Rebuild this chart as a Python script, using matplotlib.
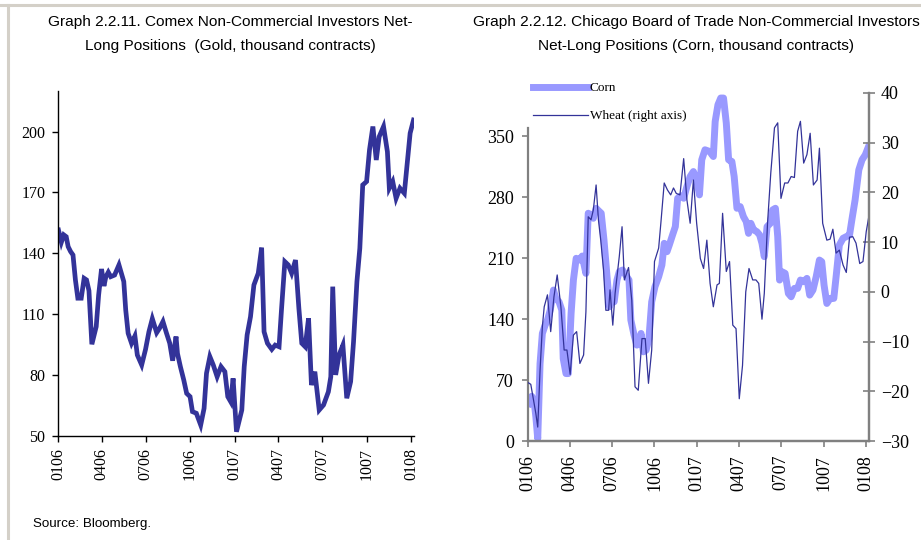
import numpy as np
import pandas as pd
import matplotlib
matplotlib.use("Agg")
import matplotlib.pyplot as plt
import matplotlib.dates as mdates
from matplotlib.lines import Line2D

# observation dates are given as days after 1 Jan 2006
gold_day = [1, 7, 12, 17, 21, 26, 31, 36, 41, 48, 54, 59, 64, 70, 79, 84, 90, 95, 99, 104,
            109, 117, 126, 136, 140, 145, 152, 159, 164, 173, 181, 188, 195, 204, 210, 217, 224, 231, 237, 244,
            247, 253, 260, 266, 273, 278, 286, 295, 302, 307, 314, 321, 329, 337, 345, 351, 357, 362, 369, 380,
            385, 391, 398, 405, 414, 421, 426, 433, 442, 449, 457, 462, 469, 476, 483, 491, 498, 504, 511, 518,
            524, 531, 540, 549, 559, 564, 568, 574, 581, 589, 597, 605, 611, 618, 624, 630, 638, 644, 651, 658,
            664, 673, 681, 685, 692, 699, 707, 716, 722, 728, 735]
gold = [151.5, 145.5, 149.1, 148.2, 143.3, 140.9, 139.2, 126.9, 117.9, 117.9,
        127.7, 126.9, 121.6, 95.2, 103.9, 119.5, 132.3, 123.9, 128.5, 130.7,
        128.5, 129.3, 134.3, 126.1, 112.1, 100.6, 95.7, 99.3, 89.9, 85.0,
        92.7, 101.4, 107.8, 100.9, 103.1, 106.4, 100.9, 95.7, 87.1, 99.0,
        90.7, 84.2, 77.6, 71.0, 69.4, 62.0, 61.2, 55.4, 63.6, 80.9,
        89.1, 85.0, 79.2, 84.2, 81.7, 69.4, 66.9, 78.4, 52.1, 62.8,
        84.2, 99.8, 108.8, 124.4, 130.2, 142.8, 101.4, 95.7, 92.7, 94.8,
        94.0, 112.1, 135.9, 134.3, 130.2, 136.7, 112.9, 95.7, 94.0, 108.0,
        75.1, 81.7, 62.8, 65.3, 71.8, 79.2, 123.6, 80.1, 89.9, 94.8,
        68.6, 76.8, 96.5, 126.1, 142.5, 173.7, 175.4, 191.0, 202.5, 186.0,
        197.5, 202.5, 190.1, 172.1, 175.4, 167.1, 172.1, 169.6, 184.4, 199.2, 205.7]

corn_day = [2, 8, 13, 17, 21, 26, 31, 37, 42, 48, 55, 60, 67, 73, 76, 82, 87, 93, 98, 104,
            111, 117, 125, 130, 136, 141, 147, 152, 158, 164, 170, 176, 181, 186, 192, 197, 204, 211, 218, 222,
            229, 235, 240, 244, 249, 255, 261, 267, 274, 282, 289, 294, 300, 305, 312, 318, 323, 330, 336, 343,
            350, 357, 364, 370, 375, 382, 392, 400, 404, 410, 416, 422, 428, 433, 440, 445, 451, 458, 465, 471,
            476, 481, 487, 494, 500, 505, 510, 516, 523, 528, 534, 539, 543, 548, 555, 562, 568, 575, 582, 588,
            595, 602, 608, 615, 622, 629, 634, 639, 645, 652, 660, 665, 672, 680, 687, 694, 699, 706, 714, 721,
            728, 735]
corn = [43, 51.4, 46.8, 27.6, 2.7, 89, 123.6, 133.2, 139, 150.4,
        173.5, 163.9, 160, 150.4, 94.8, 77.5, 77.5, 146.6, 185, 210,
        208, 212.6, 192.7, 261.8, 259.8, 256, 267.5, 264.8, 261.8, 231,
        192.7, 154.3, 162, 160, 185, 194.6, 196.5, 190.7, 185, 139,
        121.7, 110.2, 112, 123.6, 102.5, 104.4, 117.8, 160, 177.3, 188.8,
        202.3, 227.2, 217.6, 225.3, 236.8, 246.4, 279, 281.7, 279, 292.5,
        304, 309.7, 300.1, 282.9, 323.2, 334.7, 332.8, 327, 367.3, 386.5,
        394.2, 394.2, 365.4, 323.2, 321.3, 304, 267.5, 269.4, 257.9, 252.2,
        238.7, 250.2, 242.6, 240.6, 236.8, 227.2, 211.9, 246.4, 250.2, 265.6,
        267.5, 234.9, 185, 194.6, 192.7, 169.6, 165.8, 175.4, 175.4, 185,
        183.1, 186.9, 167.7, 173.5, 188.8, 208, 206.1, 179.2, 158.1, 163.9,
        163.9, 188.8, 225.3, 233, 234.9, 236.8, 254.1, 277.1, 311.6, 323.2,
        328.9, 338.5]

wheat_day = [1, 6, 12, 17, 21, 26, 31, 35, 42, 49, 56, 63, 71, 78, 84, 91, 98, 105, 112, 120,
             125, 130, 136, 141, 147, 152, 157, 163, 168, 174, 177, 183, 188, 197, 203, 208, 217, 224, 231, 238,
             246, 253, 260, 267, 273, 282, 287, 294, 301, 308, 314, 320, 328, 336, 343, 350, 357, 364, 372, 379,
             386, 393, 400, 408, 413, 420, 428, 435, 442, 449, 456, 463, 470, 477, 485, 492, 498, 505, 510, 517,
             524, 532, 539, 546, 554, 561, 568, 575, 582, 588, 595, 602, 609, 616, 624, 629, 636, 645, 652, 658,
             665, 672, 680, 687, 694, 701, 708, 716, 723, 730, 735]
wheat = [-18.3, -18.6, -21.8, -24.5, -27.2, -15.8, -7.0, -3.0, -0.6, -8.0,
         -1.0, 3.4, -3.0, -11.7, -11.7, -16.6, -8.7, -8.0, -14.4, -12.7,
         -4.0, 15.1, 14.5, 16.5, 21.5, 14.5, 10.4, 4.4, -3.7, -3.7,
         0.4, -6.7, -0.3, 7.1, 13.1, 2.4, 4.9, -1.7, -19.1, -19.8,
         -9.4, -9.4, -18.4, -11.7, 6.1, 8.8, 14.1, 21.9, 20.5, 19.5,
         20.9, 19.8, 19.5, 26.8, 18.5, 13.8, 22.5, 13.8, 6.7, 4.7,
         10.4, 1.7, -3.0, 1.4, 1.7, 15.8, 4.1, 6.1, -6.7, -7.4,
         -21.5, -14.8, 0.0, 4.7, 2.4, 2.4, 1.7, -5.5, -0.3, 13.8,
         23.9, 33.0, 34.0, 18.8, 21.9, 21.9, 23.2, 23.0, 32.3, 34.3,
         25.9, 27.6, 31.9, 21.5, 22.5, 28.9, 13.8, 10.4, 10.6, 12.6,
         7.8, 8.4, 5.4, 3.9, 11.0, 11.1, 9.8, 5.7, 6.1, 12.1, 14.8]

gold_ticks = [50, 80, 110, 140, 170, 200]
corn_ticks = [0, 70, 140, 210, 280, 350]
wheat_ticks = [-30, -20, -10, 0, 10, 20, 30, 40]

title_left = ["Graph 2.2.11. Comex Non-Commercial Investors Net-",
              "Long Positions  (Gold, thousand contracts)"]
title_right = ["Graph 2.2.12. Chicago Board of Trade Non-Commercial Investors",
               "Net-Long Positions (Corn, thousand contracts)"]

start = pd.Timestamp("2006-01-01")
gold_dates = start + pd.to_timedelta(gold_day, unit="D")
corn_dates = start + pd.to_timedelta(corn_day, unit="D")
wheat_dates = start + pd.to_timedelta(wheat_day, unit="D")
x_lo, x_hi = pd.Timestamp("2006-01-01"), pd.Timestamp("2008-01-07")

sans = ["Liberation Sans", "DejaVu Sans"]
serif = ["Liberation Serif", "DejaVu Serif"]

fig = plt.figure(figsize=(9.21, 5.4), dpi=100)

# light grey frame on the top and left edge
fig.add_artist(Line2D([0, 1], [1 - 5 / 540] * 2, transform=fig.transFigure, color="#d4d0c8", lw=2.2))
fig.add_artist(Line2D([8 / 921] * 2, [0, 1 - 5 / 540], transform=fig.transFigure, color="#d4d0c8", lw=2.2))

for line, y in zip(title_left, [22, 46]):
    fig.text(230 / 921, 1 - y / 540, line, ha="center", va="center", fontsize=11.1, family=sans)
for line, y in zip(title_right, [22, 46]):
    fig.text(696 / 921, 1 - y / 540, line, ha="center", va="center", fontsize=11.1, family=sans)
fig.text(33 / 921, 1 - 524 / 540, "Source: Bloomberg.", ha="left", va="center", fontsize=9.6, family=sans)

# --- gold ---
ax1 = fig.add_axes([58 / 921, 1 - 436 / 540, 356 / 921, 345 / 540])
ax1.plot(gold_dates, gold, color="#333399", lw=3.4, solid_joinstyle="miter")
ax1.set_ylim(50, 220)
ax1.set_yticks(gold_ticks)
ax1.set_xlim(x_lo, x_hi)
ax1.xaxis.set_major_locator(mdates.MonthLocator(bymonth=[1, 4, 7, 10]))
ax1.xaxis.set_major_formatter(mdates.DateFormatter("%m%y"))
for s in ["top", "right"]:
    ax1.spines[s].set_visible(False)
for s in ["left", "bottom"]:
    ax1.spines[s].set_linewidth(1.0)
ax1.tick_params(direction="out", length=4, width=1.0, pad=5)
ax1.tick_params(axis="x", labelrotation=90)
for lab in ax1.get_xticklabels() + ax1.get_yticklabels():
    lab.set_family(serif)
    lab.set_fontsize(11.5)

# --- corn / wheat ---
ax2 = fig.add_axes([528 / 921, 1 - 441 / 540, 341 / 921, 348 / 540])
ax3 = ax2.twinx()
corn_line, = ax2.plot(corn_dates, corn, color="#9999ff", lw=5, label="Corn")
wheat_line, = ax3.plot(wheat_dates, wheat, color="#333399", lw=0.9, label="Wheat (right axis)")
ax2.set_ylim(0, 400)
ax2.set_yticks(corn_ticks)
ax3.set_ylim(-30, 40)
ax3.set_yticks(wheat_ticks)
ax2.set_xlim(x_lo, x_hi)
ax2.xaxis.set_major_locator(mdates.MonthLocator(bymonth=[1, 4, 7, 10]))
ax2.xaxis.set_major_formatter(mdates.DateFormatter("%m%y"))
grey = "#808080"
for a in [ax2, ax3]:
    a.spines["top"].set_visible(False)
    for s in ["left", "right", "bottom"]:
        a.spines[s].set_color(grey)
        a.spines[s].set_linewidth(1.6)
ax2.spines["left"].set_bounds(0, 360)
ax3.spines["left"].set_visible(False)
ax2.tick_params(direction="out", length=4, width=1.2, color=grey, pad=6)
ax2.tick_params(axis="x", labelrotation=90)
ax3.tick_params(direction="inout", length=9, width=1.2, color=grey, pad=4)
for lab in ax2.get_xticklabels() + ax2.get_yticklabels() + ax3.get_yticklabels():
    lab.set_family(serif)
    lab.set_fontsize(13)

ax3.legend([corn_line, wheat_line], ["Corn", "Wheat (right axis)"],
           loc="upper left", bbox_to_anchor=(533 / 921, 1 - 82 / 540), bbox_transform=fig.transFigure,
           frameon=False, prop={"family": serif, "size": 9.5}, handlelength=4.2, handletextpad=0.1,
           labelspacing=1.2, borderaxespad=0, borderpad=0)

fig.savefig("out.png", dpi=100, facecolor="white")
